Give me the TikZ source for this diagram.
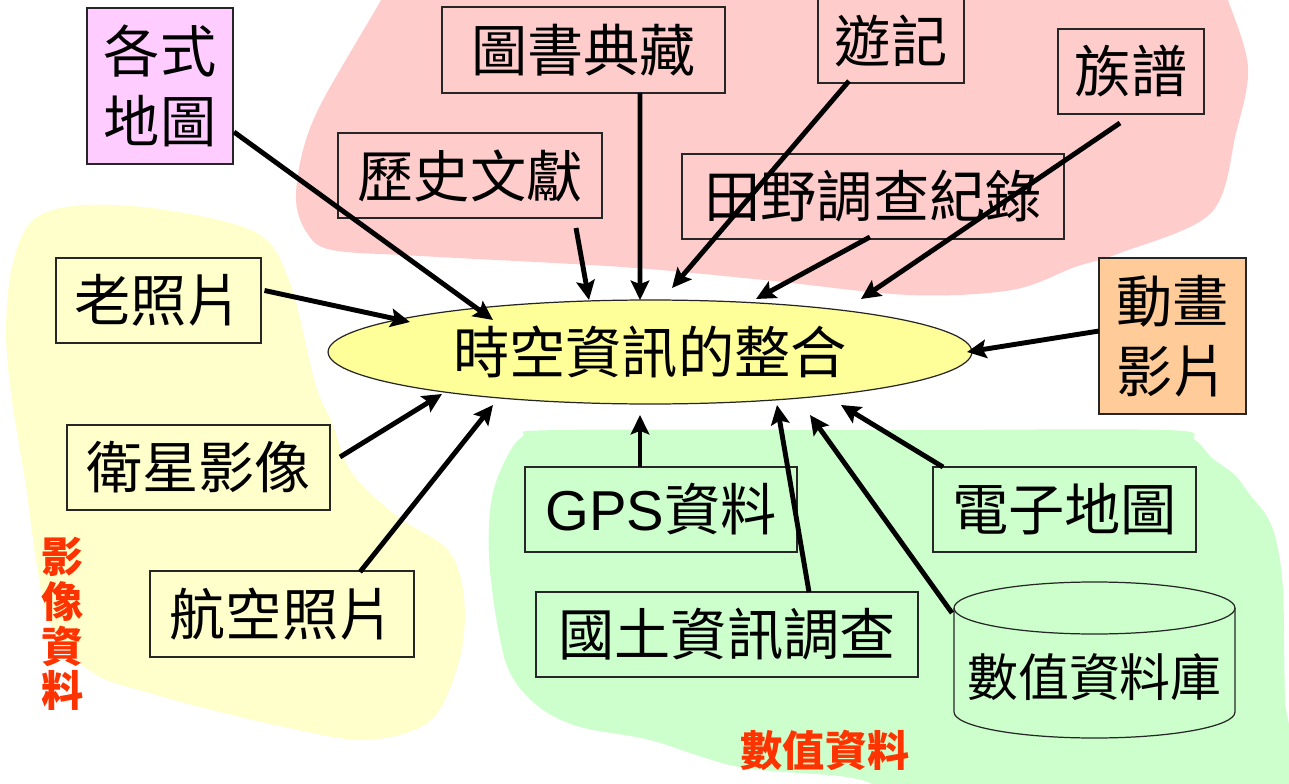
\documentclass[tikz,border=0pt]{standalone}
\usepackage{fontspec}
\newfontfamily\cjk{Noto Sans CJK TC}
\newfontfamily\lat{Liberation Sans}
\usetikzlibrary{arrows.meta,calc,shapes.geometric}
\definecolor{pinkbg}{HTML}{FFCCCC}
\definecolor{yellowbg}{HTML}{FFFFCC}
\definecolor{greenbg}{HTML}{CCFFCC}
\definecolor{violetbg}{HTML}{FFCCFF}
\definecolor{orangebg}{HTML}{FFCC99}
\definecolor{ellfill}{HTML}{FFFF99}
\definecolor{redlbl}{HTML}{FF3300}
\begin{document}
\begin{tikzpicture}[x=0.02cm,y=-0.02cm,
  boxline/.style={draw=black!85, line width=0.7pt},
  box/.style={boxline, rectangle, inner sep=0pt, align=center,
    font=\cjk\fontsize{32}{40}\selectfont},
  arr/.style={line width=2.8pt, -{Stealth[length=11pt,width=10.5pt,inset=2pt]}},
  grouplbl/.style={text=redlbl, align=center, inner sep=0pt,
    font=\cjk\bfseries\fontsize{24}{25.5}\selectfont},
]
\useasboundingbox (0,0) rectangle (1289,784);

% background groups
\fill[pinkbg] plot[smooth cycle, tension=0.55] coordinates {(395,-30) (381,0) (323,100) (303,150) (296,200) (307,233) (332,250) (420,256) (622,267) (764,280) (909,295) (1012,290) (1075,267) (1120,253) (1211,213) (1236,133) (1248,67) (1228,0) (1215,-30)};
\fill[yellowbg] plot[smooth cycle, tension=0.55] coordinates {(6,333) (12,267) (33,220) (83,205) (166,210) (257,233) (290,283) (315,383) (332,423) (352,473) (398,517) (448,550) (464,597) (460,657) (431,720) (365,740) (280,726) (200,707) (150,693) (100,677) (67,650) (47,615) (36,560) (25,480) (12,400)};
\fill[greenbg] plot[smooth cycle, tension=0.55] coordinates {(522,437) (560,430) (900,430) (1166,430) (1195,440) (1212,458) (1235,475) (1250,495) (1266,515) (1276,540) (1283,590) (1285,700) (1290,810) (1100,815) (909,792) (847,777) (739,767) (650,740) (580,727) (539,707) (510,673) (497,623) (489,557) (491,503) (502,467)};

% central ellipse
\node[ellipse, boxline, fill=ellfill, inner sep=0pt, minimum width=12.88cm, minimum height=2.08cm,
  font=\cjk\fontsize{32}{40}\selectfont] (main) at (650,352) {時空資訊的整合};

% boxes
\node[box, fill=violetbg, minimum width=2.92cm, minimum height=3.12cm] (gsdt) at (160,86) {各式\\地圖};
\node[box, minimum width=5.66cm, minimum height=1.72cm] (tsdc) at (583.5,50) {圖書典藏};
\node[box, minimum width=5.28cm, minimum height=1.70cm] (lswx) at (470,175.5) {歷史文獻};
\node[box, minimum width=2.92cm, minimum height=1.70cm] (yj) at (891,40.5) {遊記};
\node[box, minimum width=2.92cm, minimum height=1.70cm] (zp) at (1131,71.5) {族譜};
\node[box, minimum width=7.64cm, minimum height=1.70cm] (tydc) at (873,196.5) {田野調查紀錄};
\node[box, minimum width=4.10cm, minimum height=1.70cm] (lzp) at (158.5,300.5) {老照片};
\node[box, fill=orangebg, minimum width=2.94cm, minimum height=3.12cm] (dhyp) at (1172.5,336) {動畫\\影片};
\node[box, minimum width=5.26cm, minimum height=1.70cm] (wxyx) at (198.5,467.5) {衛星影像};
\node[box, minimum width=5.28cm, minimum height=1.72cm] (hkzp) at (282,614) {航空照片};
\node[box, minimum width=5.44cm, minimum height=1.70cm] (gps) at (661,509.5) {{\lat GPS}資料};
\node[box, minimum width=7.64cm, minimum height=1.70cm] (gtzx) at (727,634.5) {國土資訊調查};
\node[box, minimum width=5.26cm, minimum height=1.70cm] (dzdt) at (1064.5,509.5) {電子地圖};

% database cylinder
\node[inner sep=0pt, minimum width=5.62cm, minimum height=3.12cm] (db) at (1094.5,660) {};
\draw[boxline] (954,608) -- (954,712) arc[start angle=180, end angle=0, x radius=140.5, y radius=26] -- (1235,608);
\draw[boxline] (1094.5,608) ellipse[x radius=140.5, y radius=26];
\node[inner sep=0pt, font=\cjk\fontsize{29}{34}\selectfont] (dbt) at (1094.5,677) {數值資料庫};

% group labels
\node[grouplbl] (lblimg) at (63,624) {影\\像\\資\\料};
\node[grouplbl] (lblnum) at (825,750) {數值資料};

% arrows
\draw[arr] ($(gsdt)+(74,46)$) -- ($(main)+(-157,-32)$);
\draw[arr] ($(lzp)+(106,-10)$) -- ($(main)+(-240,-30)$);
\draw[arr] ($(lswx)+(106,52.5)$) -- ($(main)+(-61,-52)$);
\draw[arr] ($(tsdc)+(56.5,43)$) -- ($(main)+(-10,-52)$);
\draw[arr] ($(yj)+(-42,40.5)$) -- ($(main)+(22,-64)$);
\draw[arr] ($(tydc)+(-3,40.5)$) -- ($(main)+(106,-53)$);
\draw[arr] ($(zp)+(-11,51.5)$) -- ($(main)+(211,-53)$);
\draw[arr] ($(dhyp)+(-73.5,-5)$) -- ($(main)+(317,0)$);
\draw[arr] ($(wxyx)+(141.5,-10.5)$) -- ($(main)+(-208,42)$);
\draw[arr] ($(hkzp)+(78,-42)$) -- ($(main)+(-157,53)$);
\draw[arr] ($(gps)+(-21,-42.5)$) -- ($(main)+(-10,63)$);
\draw[arr] ($(gtzx)+(82,-42.5)$) -- ($(main)+(127,53)$);
\draw[arr] ($(db)+(-142.5,-47)$) -- ($(main)+(160,63)$);
\draw[arr] ($(dzdt)+(-121.5,-42.5)$) -- ($(main)+(191,53)$);
\end{tikzpicture}
\end{document}
